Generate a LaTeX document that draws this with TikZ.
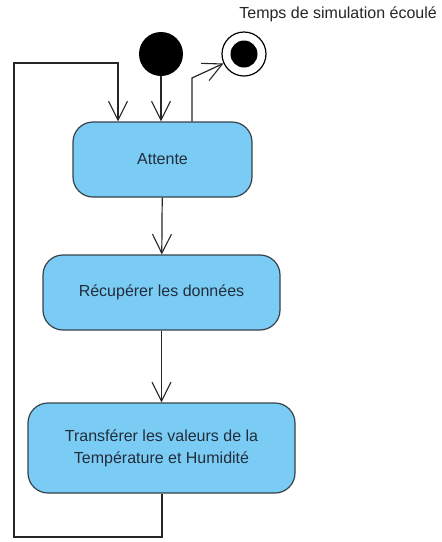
\documentclass[tikz,border=0pt]{standalone}
\usepackage{fontspec}
\setmainfont{Liberation Sans}
\usetikzlibrary{arrows.meta}
\definecolor{boxfill}{RGB}{122,204,245}
\definecolor{boxdraw}{RGB}{55,65,75}
\definecolor{txt}{RGB}{35,45,60}
\begin{document}
\begin{tikzpicture}[x=1pt,y=-1pt,
  act/.style={draw=boxdraw,fill=boxfill,line width=1.2pt,rounded corners=20pt,
    align=center,inner sep=0pt,font=\fontsize{16}{22}\selectfont,text=txt},
  flow/.style={line width=1.2pt,draw=black!85,-{Straight Barb[length=19pt,width=19pt,line width=1.1pt]}},
  plain/.style={line width=1.2pt,draw=black!85}]
\useasboundingbox (0,0) rectangle (442,542);
\node[circle,fill=black,minimum size=44pt,inner sep=0pt] (ini) at (161,54) {};
\node[circle,draw=black,line width=1.2pt,fill=white,minimum size=44pt,inner sep=0pt] (fin) at (244,54) {};
\node[circle,fill=black,minimum size=27pt,inner sep=0pt] (fininner) at (fin) {};
\node[anchor=north east,font=\fontsize{16}{18}\selectfont,text=black!85,inner sep=0pt] (lbl) at (437,7) {Temps de simulation écoulé};
\node[act,minimum width=179pt,minimum height=75pt] (att) at (162.5,159.5) {Attente};
\node[act,minimum width=237pt,minimum height=75pt] (rec) at (161.5,292.5) {Récupérer les données};
\node[act,minimum width=267pt,minimum height=90pt] (tra) at (161.5,448) {Transférer les valeurs de la\\Température et Humidité};
\coordinate (b1) at (162,537);
\coordinate (b2) at (14,537);
\coordinate (b3) at (14,63);
\coordinate (b4) at (118,63);
\coordinate (e1) at (192,78);
\draw[flow] (ini) -- (ini |- att.north);
\draw[flow] (att) -- (rec);
\draw[flow] (rec) -- (tra);
\draw[flow] (tra.south -| b1) -- (b1) -- (b2) -- (b3) -- (b4) -- (b4 |- att.north);
\draw[flow] (e1 |- att.north) -- (e1) -- (fin);
\end{tikzpicture}
\end{document}
